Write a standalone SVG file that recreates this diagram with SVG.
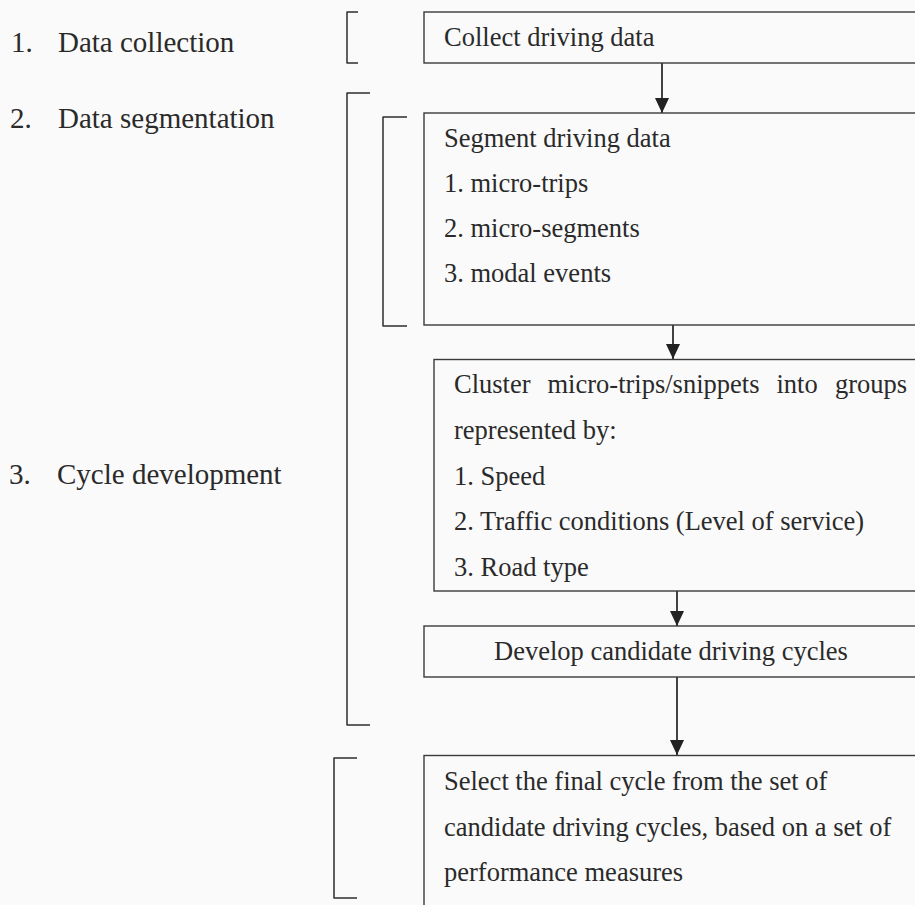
<svg xmlns="http://www.w3.org/2000/svg" width="915" height="905" viewBox="0 0 915 905">
<style>
  .box{fill:none;stroke:#3a3a3a;stroke-width:1.4}
  .br{fill:none;stroke:#2e2e2e;stroke-width:1.5;stroke-linejoin:round}
  .t{font-family:"Liberation Serif","Times New Roman",serif;font-size:26.5px;fill:#2a2a2a}
  .lbl{font-family:"Liberation Serif","Times New Roman",serif;font-size:29px;fill:#2a2a2a}
  .ar{fill:none;stroke:#222;stroke-width:1.7}
</style>
<defs>
  <marker id="ah" markerUnits="userSpaceOnUse" markerWidth="16" markerHeight="16" refX="15" refY="7" orient="auto">
    <path d="M0,0 L15,7 L0,14 Z" fill="#222"/>
  </marker>
</defs>
<rect width="915" height="905" fill="#fafafa"/>

<g id="labels">
  <text class="lbl" x="11" y="52">1.</text><text class="lbl" x="58" y="52">Data collection</text>
  <text class="lbl" x="10" y="128">2.</text><text class="lbl" x="58" y="128">Data segmentation</text>
  <text class="lbl" x="9" y="484">3.</text><text class="lbl" x="57" y="484">Cycle development</text>
</g>

<g id="brackets">
  <path class="br" d="M358,12 H347 V63 H358"/>
  <path class="br" d="M370,93 H347 V725 H370"/>
  <path class="br" d="M407,117 H383 V326 H407"/>
  <path class="br" d="M357,758 H334 V898 H357"/>
</g>

<g id="connectors">
  <line class="ar" x1="662" y1="63" x2="662" y2="113" marker-end="url(#ah)"/>
  <line class="ar" x1="673" y1="325" x2="673" y2="359" marker-end="url(#ah)"/>
  <line class="ar" x1="677" y1="591" x2="677" y2="626" marker-end="url(#ah)"/>
  <line class="ar" x1="677" y1="677" x2="677" y2="755" marker-end="url(#ah)"/>
</g>

<g id="collect">
  <rect class="box" x="424" y="12" width="520" height="51"/>
  <text class="t" x="444" y="46">Collect driving data</text>
</g>

<g id="segment">
  <rect class="box" x="424" y="113" width="520" height="212"/>
  <text class="t" x="444" y="147">Segment driving data</text>
  <text class="t" x="444" y="192">1. micro-trips</text>
  <text class="t" x="444" y="237">2. micro-segments</text>
  <text class="t" x="444" y="282">3. modal events</text>
</g>

<g id="cluster">
  <rect class="box" x="434" y="359.5" width="510" height="231.5"/>
  <text class="t" y="393"><tspan x="454">Cluster</tspan><tspan x="547.5">micro-trips/snippets</tspan><tspan x="776.5">into</tspan><tspan x="835">groups</tspan></text>
  <text class="t" x="454" y="439">represented by:</text>
  <text class="t" x="454" y="485">1. Speed</text>
  <text class="t" x="454" y="530">2. Traffic conditions (Level of service)</text>
  <text class="t" x="454" y="576">3. Road type</text>
</g>

<g id="develop">
  <rect class="box" x="424" y="626" width="520" height="51"/>
  <text class="t" x="494" y="660">Develop candidate driving cycles</text>
</g>

<g id="select">
  <rect class="box" x="424" y="755.5" width="520" height="200"/>
  <text class="t" x="444" y="790">Select the final cycle from the set of</text>
  <text class="t" x="444" y="836">candidate driving cycles, based on a set of</text>
  <text class="t" x="444" y="881">performance measures</text>
</g>
</svg>
